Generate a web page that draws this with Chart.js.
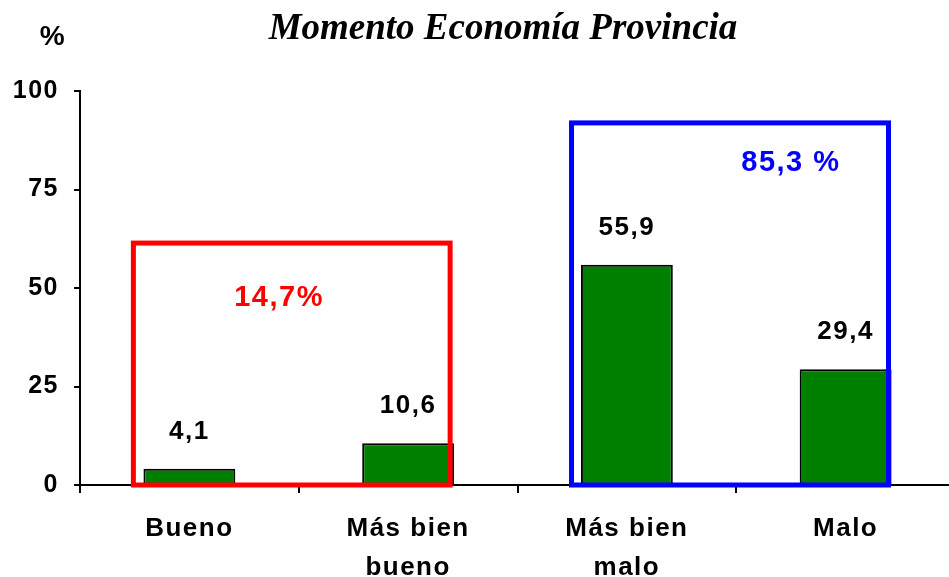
<!DOCTYPE html>
<html>
<head>
<meta charset="utf-8">
<script src="https://cdn.jsdelivr.net/npm/chart.js@4/dist/chart.umd.min.js"></script>
<style>
  html, body { margin: 0; padding: 0; background: #fff; overflow: hidden; }
  canvas { display: block; }
</style>
</head>
<body>
<canvas id="chart" width="955" height="577"></canvas>
<script>
// data
const categories = [["Bueno"], ["Más bien", "bueno"], ["Más bien", "malo"], ["Malo"]];
const values = [4.1, 10.6, 55.9, 29.4];
const valueLabels = ["4,1", "10,6", "55,9", "29,4"];
const yTicks = [0, 25, 50, 75, 100];
const groupLabels = ["14,7%", "85,3 %"];
const groupColors = ["#ff0000", "#0000ff"];

const SANS = "'Liberation Sans', Arial, sans-serif";

// the two framing boxes, in scale units (category index / %)
const boxes = [
    { from: -0.256, to: 1.192, top: 61.4, labelX: 0.41, labelY: 47.5 },
    { from: 1.747, to: 3.196, top: 91.9, labelX: 2.75, labelY: 81.7 }
];

const overlay = {
    id: "overlay",
    beforeDraw(chart) {
        // the original text is a little spaced out
        chart.ctx.letterSpacing = "1.5px";
    },
    afterDatasetsDraw(chart) {
        const ctx = chart.ctx;
        const xs = chart.scales.x;
        const ys = chart.scales.y;
        ctx.save();

        // value labels above bars
        ctx.fillStyle = "#000";
        ctx.font = "bold 26px " + SANS;
        ctx.textAlign = "center";
        ctx.textBaseline = "middle";
        chart.getDatasetMeta(0).data.forEach((bar, i) => {
            ctx.fillText(valueLabels[i], bar.x, bar.y - 37);
        });

        // boxes and group totals
        boxes.forEach((b, i) => {
            const x0 = xs.getPixelForValue(b.from);
            const x1 = xs.getPixelForValue(b.to);
            const y0 = ys.getPixelForValue(b.top);
            const y1 = ys.getPixelForValue(0);
            ctx.strokeStyle = groupColors[i];
            ctx.lineWidth = 5;
            ctx.strokeRect(x0, y0, x1 - x0, y1 - y0);
            ctx.fillStyle = groupColors[i];
            ctx.font = "bold 29px " + SANS;
            ctx.fillText(groupLabels[i], xs.getPixelForValue(b.labelX), ys.getPixelForValue(b.labelY));
        });

        // title and unit
        ctx.fillStyle = "#000";
        ctx.font = "bold 28px " + SANS;
        ctx.fillText("%", 53, 37);
        ctx.letterSpacing = "0px";
        ctx.font = "italic bold 37px 'Liberation Serif', 'Times New Roman', serif";
        ctx.fillText("Momento Economía Provincia", 503, 29);
        ctx.restore();
    }
};

new Chart(document.getElementById("chart"), {
    type: "bar",
    data: {
        labels: categories,
        datasets: [{
            data: values,
            backgroundColor: "#008000",
            borderColor: "#000",
            borderWidth: 2,
            borderSkipped: "bottom",
            categoryPercentage: 1,
            barPercentage: 0.42
        }]
    },
    options: {
        responsive: false,
        animation: false,
        devicePixelRatio: 1,
        layout: { padding: { top: 91, right: 0, left: 0, bottom: 0 } },
        plugins: {
            legend: { display: false },
            tooltip: { enabled: false }
        },
        scales: {
            x: {
                afterFit(scale) { scale.height = 92; },
                grid: {
                    drawOnChartArea: false,
                    drawTicks: true,
                    tickLength: 8,
                    color: "#000",
                    lineWidth: 2
                },
                border: { display: true, color: "#000", width: 2 },
                ticks: {
                    color: "#000",
                    font: { family: SANS, size: 26, weight: "bold", lineHeight: 1.48 },
                    padding: 17,
                    maxRotation: 0
                }
            },
            y: {
                min: 0,
                max: 100,
                afterFit(scale) { scale.width = 80; },
                afterBuildTicks(scale) { scale.ticks = yTicks.map(v => ({ value: v })); },
                grid: {
                    drawOnChartArea: false,
                    drawTicks: true,
                    tickLength: 6,
                    color: "#000",
                    lineWidth: 2
                },
                border: { display: true, color: "#000", width: 2 },
                ticks: {
                    color: "#000",
                    font: { family: SANS, size: 25, weight: "bold" },
                    padding: 15
                }
            }
        }
    },
    plugins: [overlay]
});
</script>
</body>
</html>
